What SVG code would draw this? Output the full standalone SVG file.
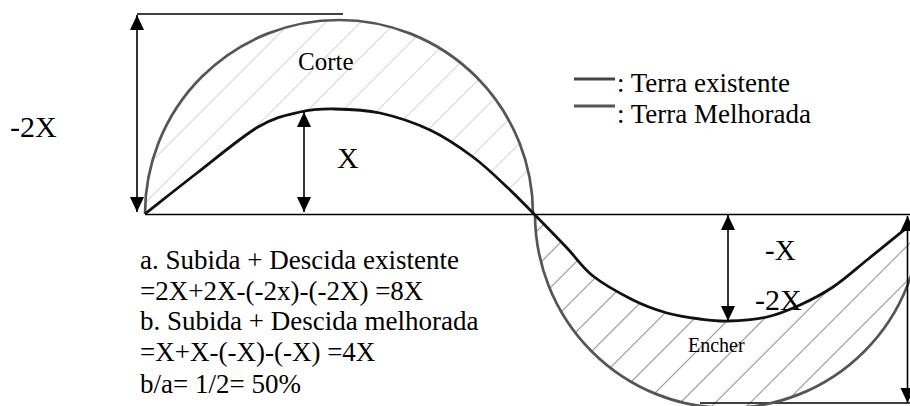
<svg xmlns="http://www.w3.org/2000/svg" width="910" height="406" viewBox="0 0 910 406">
<style>
text{font-family:"Liberation Serif","Times New Roman",serif;fill:#000}
.dim{stroke:#000;stroke-width:1.6;fill:none}
.arr{stroke:#000;stroke-width:1.6;fill:none;marker-start:url(#ah);marker-end:url(#ah)}
.exist{stroke:#111;stroke-width:2.8;fill:none;stroke-linejoin:round}
.impr{stroke:#555;stroke-width:2.7;fill:none}
</style>
<defs>
<marker id="ah" markerUnits="userSpaceOnUse" markerWidth="16" markerHeight="15" refX="15" refY="7" orient="auto-start-reverse" viewBox="0 0 16 14">
<path d="M0,0 L15,7 L0,14 Z" fill="#000"/>
</marker>
<pattern id="hatchTop" patternUnits="userSpaceOnUse" width="24.75" height="24.75" patternTransform="rotate(45)">
<line x1="23.3" y1="-2" x2="23.3" y2="27" stroke="#d9d9d9" stroke-width="1.1"/>
</pattern>
<pattern id="hatchBot" patternUnits="userSpaceOnUse" width="24.75" height="24.75" patternTransform="rotate(45)">
<line x1="23.3" y1="-2" x2="23.3" y2="27" stroke="#9a9a9a" stroke-width="1.1"/>
</pattern>
</defs>
<rect width="910" height="406" fill="#fff"/>
<g id="hatching">
<path fill="url(#hatchTop)" fill-rule="evenodd" d="M145,214 A194,194 0 0 1 533,214 Z M145,214 C162.3,200.3 178.2,187.5 197,173 C215.8,158.5 240.8,137.2 258,127 C275.2,116.8 287.2,115 300,112 C312.8,109 321.7,108.8 335,109 C348.3,109.2 364.2,109.5 380,113 C395.8,116.5 414.5,122.7 430,130 C445.5,137.3 460,147.3 473,157 C486,166.7 497.7,178.3 508,188 C518.3,197.7 525.2,205 535,215 Z"/>
<path fill="url(#hatchBot)" fill-rule="evenodd" d="M535,214 A193,194 0 0 0 921,214 Z M535,215 C544.8,225 557.3,237.8 567,248 C576.7,258.2 582,267.3 593,276 C604,284.7 620.7,293.8 633,300 C645.3,306.2 655.8,309.8 667,313 C678.2,316.2 689.8,317.7 700,319 C710.2,320.3 716.8,321.3 728,321 C739.2,320.7 755,319.7 767,317 C779,314.3 789,310 800,305 C811,300 821.8,294.5 833,287 C844.2,279.5 854.2,270.3 867,260 C879.8,249.7 895.7,236.7 910,225 L910,214 Z"/>
</g>
<g id="baseline">
<line class="dim" x1="145" y1="214.5" x2="910" y2="214.5"/>
<line class="dim" x1="137" y1="14" x2="343" y2="14"/>
<line class="dim" x1="700" y1="403" x2="910" y2="403"/>
</g>
<g id="improved-ground">
<path class="impr" d="M145,214 A194,194 0 0 1 533,214"/>
<path class="impr" d="M535,214 A193,194 0 0 0 921,214"/>
</g>
<g id="existing-ground">
<path class="exist" d="M145,214 C162.3,200.3 178.2,187.5 197,173 C215.8,158.5 240.8,137.2 258,127 C275.2,116.8 287.2,115 300,112 C312.8,109 321.7,108.8 335,109 C348.3,109.2 364.2,109.5 380,113 C395.8,116.5 414.5,122.7 430,130 C445.5,137.3 460,147.3 473,157 C486,166.7 497.7,178.3 508,188 C518.3,197.7 525.2,205 535,215 C544.8,225 557.3,237.8 567,248 C576.7,258.2 582,267.3 593,276 C604,284.7 620.7,293.8 633,300 C645.3,306.2 655.8,309.8 667,313 C678.2,316.2 689.8,317.7 700,319 C710.2,320.3 716.8,321.3 728,321 C739.2,320.7 755,319.7 767,317 C779,314.3 789,310 800,305 C811,300 821.8,294.5 833,287 C844.2,279.5 854.2,270.3 867,260 C879.8,249.7 895.7,236.7 912,223.5"/>
</g>
<g id="connectors">
<line class="arr" x1="137" y1="15" x2="137" y2="212"/>
<line class="arr" x1="304" y1="212" x2="304" y2="112"/>
<line class="arr" x1="728" y1="215" x2="728" y2="321"/>
<line class="arr" x1="907.5" y1="216" x2="907.5" y2="403"/>
</g>
<g id="legend">
<line x1="574" y1="79" x2="615" y2="79" stroke="#444" stroke-width="3"/>
<line x1="574" y1="106" x2="615" y2="106" stroke="#555" stroke-width="3"/>
<text x="617" y="92" font-size="27">: Terra existente</text>
<text x="617" y="123" font-size="27">: Terra Melhorada</text>
</g>
<g id="labels">
<text x="10" y="137" font-size="30">-2X</text>
<text x="337" y="168" font-size="30">X</text>
<text x="765" y="260" font-size="29">-X</text>
<text x="755" y="310" font-size="30">-2X</text>
<text x="298" y="70" font-size="25">Corte</text>
<text x="688" y="352" font-size="20">Encher</text>
</g>
<g id="formulas" font-size="27">
<text x="140" y="269">a. Subida + Descida existente</text>
<text x="140" y="300">=2X+2X-(-2x)-(-2X) =8X</text>
<text x="140" y="330">b. Subida + Descida melhorada</text>
<text x="140" y="361">=X+X-(-X)-(-X) =4X</text>
<text x="140" y="393">b/a= 1/2= 50%</text>
</g>
</svg>
